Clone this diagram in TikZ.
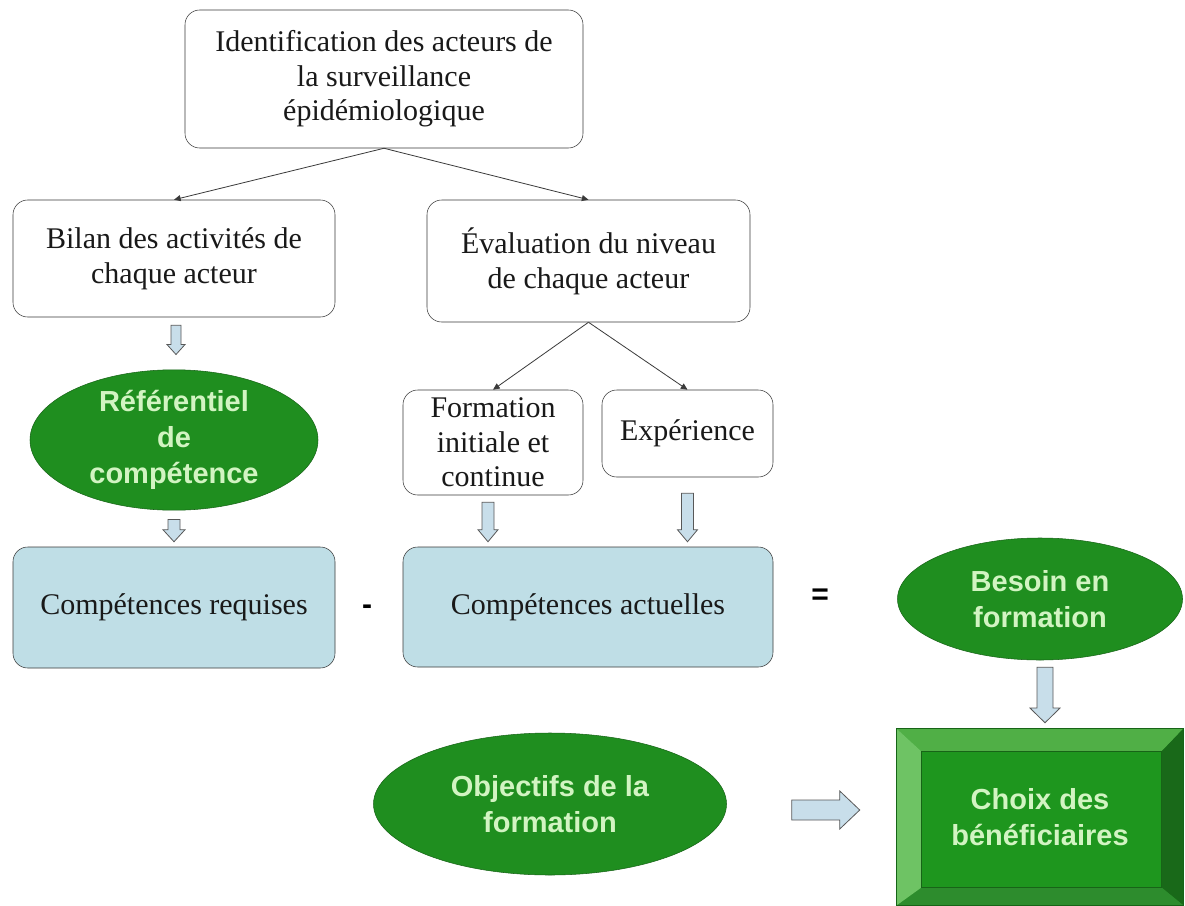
\documentclass[tikz,border=0pt]{standalone}
\usepackage{fontspec}
\setmainfont{Liberation Serif}
\newfontfamily\arialfont{Liberation Sans}
\usetikzlibrary{shapes.geometric, arrows.meta, positioning, calc}
\definecolor{BoxBlue}{HTML}{BFDEE6}
\definecolor{ArrowBlue}{HTML}{C8DEEA}
\definecolor{LeafGreen}{HTML}{1F8E1F}
\definecolor{DarkLeaf}{HTML}{176417}
\definecolor{PaleGreen}{HTML}{D2F4C2}
\definecolor{InkGray}{HTML}{3A3A3A}
\definecolor{ChoixFace}{HTML}{1E961E}
\definecolor{BevelTop}{HTML}{50AF46}
\definecolor{BevelLeft}{HTML}{6EC364}
\definecolor{BevelRight}{HTML}{196919}
\definecolor{BevelBottom}{HTML}{2D8C2D}

\tikzset{
  stagebox/.style={draw=InkGray, rounded corners=11pt, align=center, inner sep=0pt,
                   text=black!90, font=\fontsize{22.5}{26}\selectfont},
  skillbox/.style={stagebox, fill=BoxBlue},
  greenoval/.style={ellipse, draw=DarkLeaf, fill=LeafGreen, text=PaleGreen, align=center,
                    inner sep=0pt, font=\arialfont\bfseries\fontsize{21.75}{27}\selectfont},
  thinlink/.style={draw=InkGray, line width=0.6pt, -{Triangle[length=5pt,width=4.5pt]}},
  hollowarrow/.style={draw=InkGray!85, fill=ArrowBlue, line width=0.6pt, line join=miter},
  signlabel/.style={inner sep=0pt, font=\arialfont\bfseries\fontsize{22.5}{26}\selectfont}
}

% block arrow: from, to, half shaft, half head, head length
\newcommand\blockarrow[5]{%
  \coordinate (ba-s) at #1;
  \coordinate (ba-e) at #2;
  \coordinate (ba-h) at ($(ba-e)!#5!(ba-s)$);
  \draw[hollowarrow] ($(ba-s)!#3!90:(ba-e)$) -- ($(ba-h)!#3!-90:(ba-s)$)
    -- ($(ba-h)!#4!-90:(ba-s)$) -- (ba-e) -- ($(ba-h)!#4!90:(ba-s)$)
    -- ($(ba-h)!#3!90:(ba-s)$) -- ($(ba-s)!#3!-90:(ba-e)$) -- cycle;
}

\begin{document}
\begin{tikzpicture}[x=0.75pt, y=-0.75pt]
\useasboundingbox (0,0) rectangle (1185,906);
\fill[white] (0,0) rectangle (1185,906);

% top of the chart
\node[stagebox, minimum width=298.5pt, minimum height=103.5pt] (ident) at (384,79)
  {Identification des acteurs de\\la surveillance\\épidémiologique};
\node[stagebox, minimum width=241.5pt, minimum height=87.75pt] (bilan) at (174,258.5)
  {Bilan des activités de\\chaque acteur};
\node[stagebox, minimum width=242.25pt, minimum height=91.5pt] (evaluation) at (588.5,261)
  {Évaluation du niveau\\de chaque acteur};

\draw[thinlink] (ident.south) -- (bilan.north);
\draw[thinlink] (ident.south) -- (evaluation.north);

% left branch
\node[greenoval, minimum width=216pt, minimum height=94.5pt] (ref) at (174,440)
  {Référentiel\\de\\compétence};
\node[skillbox, minimum width=241.5pt, minimum height=90.75pt] (requises) at (174,607.5)
  {Compétences requises};

% right branch
\node[stagebox, minimum width=135pt, minimum height=78.75pt] (formation) at (493,442.5)
  {Formation\\initiale et\\continue};
\node[stagebox, minimum width=128.25pt, minimum height=65.25pt] (experience) at (687.5,433.5)
  {Expérience};
\node[skillbox, minimum width=277.5pt, minimum height=90pt] (actuelles) at (588,607)
  {Compétences actuelles};

\draw[thinlink] (evaluation.south) -- (formation.north);
\draw[thinlink] (evaluation.south) -- (experience.north);

\node[signlabel] (moins) at (367,610) {-};
\node[signlabel] (egal) at (820,597) {=};

% result
\node[greenoval, minimum width=213.75pt, minimum height=91.5pt] (besoin) at (1040,599)
  {Besoin en\\formation};
\node[greenoval, minimum width=264.75pt, minimum height=106.5pt] (objectifs) at (550,804)
  {Objectifs de la\\formation};
\node[fill=ChoixFace, draw=DarkLeaf, minimum width=214.5pt, minimum height=132pt,
      align=center, inner sep=0pt, text=PaleGreen,
      font=\arialfont\bfseries\fontsize{21.75}{27}\selectfont] (choix) at (1040,817)
  {Choix des\\bénéficiaires};
\coordinate (c-nw) at ($(choix.north west)+(25,23)$);
\coordinate (c-ne) at ($(choix.north east)+(-22,23)$);
\coordinate (c-se) at ($(choix.south east)+(-22,-18)$);
\coordinate (c-sw) at ($(choix.south west)+(25,-18)$);
\fill[BevelTop] (choix.north west) -- (choix.north east) -- (c-ne) -- (c-nw) -- cycle;
\fill[BevelRight] (choix.north east) -- (choix.south east) -- (c-se) -- (c-ne) -- cycle;
\fill[BevelBottom] (choix.south east) -- (choix.south west) -- (c-sw) -- (c-se) -- cycle;
\fill[BevelLeft] (choix.south west) -- (choix.north west) -- (c-nw) -- (c-sw) -- cycle;
\draw[DarkLeaf, line width=0.5pt] (c-nw) rectangle (c-se);
\draw[DarkLeaf, line width=0.8pt] (choix.north west) rectangle (choix.south east);

% block arrows
\blockarrow{($(bilan.south)+(2,8)$)}{($(ref.north)+(2,-15)$)}{3.75pt}{6.75pt}{7.5pt}
\blockarrow{($(ref.south)+(0,9)$)}{($(requises.north)+(0,-5)$)}{4.5pt}{8.25pt}{9pt}
\blockarrow{($(formation.south)+(-5,7)$)}{($(formation.south |- actuelles.north)+(-5,-5)$)}{4.5pt}{7.5pt}{9pt}
\blockarrow{($(experience.south)+(0,16)$)}{($(experience.south |- actuelles.north)+(0,-5)$)}{4.5pt}{7.5pt}{9pt}
\blockarrow{($(besoin.south)+(5,7)$)}{($(choix.north)+(5,-6)$)}{6pt}{11.25pt}{11pt}
\coordinate (obj-out) at ($(objectifs.east)+(65,6)$);
\blockarrow{(obj-out)}{($(choix.west |- obj-out)+(-37,0)$)}{7.5pt}{14.25pt}{15pt}
\end{tikzpicture}
\end{document}
